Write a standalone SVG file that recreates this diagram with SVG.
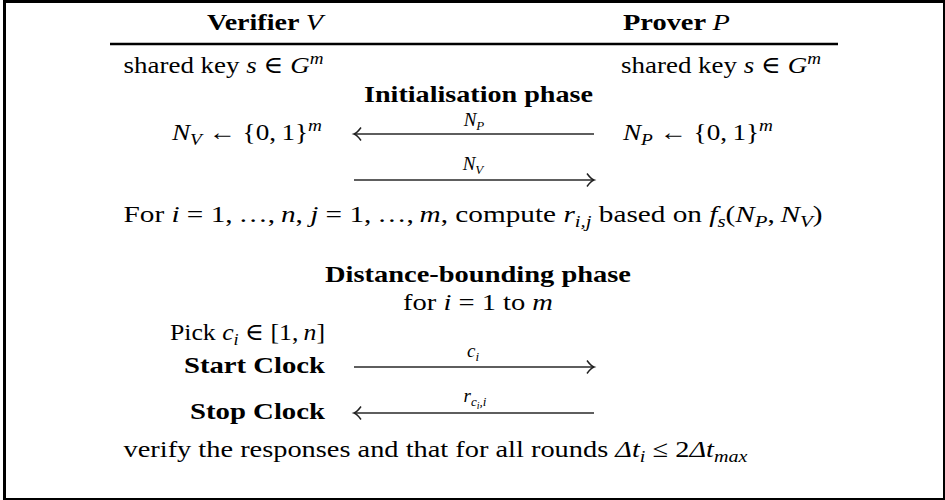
<svg xmlns="http://www.w3.org/2000/svg" width="945" height="500" viewBox="0 0 945 500">
<style>
.t{font-family:"Liberation Serif","DejaVu Serif",serif;font-size:24px;fill:#000}
.b{font-weight:bold}
.i{font-style:italic;font-weight:normal}
.sm{font-size:17px}
.xs{font-size:13px}
.lbl{font-family:"Liberation Serif","DejaVu Serif",serif;font-size:19px;font-style:italic;fill:#000;text-anchor:middle}
.msg{stroke:#5e5e5e;stroke-width:2;fill:none;marker-end:url(#ah)}
</style>
<defs>
<marker id="ah" markerUnits="userSpaceOnUse" markerWidth="14" markerHeight="16" refX="11" refY="8" orient="auto">
<path d="M4,1.5 Q8,7 11,8 Q8,9 4,14.5" fill="none" stroke="#222" stroke-width="1.5"/>
</marker>
</defs>
<rect x="4.5" y="1.5" width="940" height="498" fill="#fff" stroke="#000" stroke-width="3"/>
<g id="header">
<text class="t b" x="207" y="30" textLength="116" lengthAdjust="spacingAndGlyphs">Verifier <tspan class="i">V</tspan></text>
<text class="t b" x="623" y="30" textLength="107" lengthAdjust="spacingAndGlyphs">Prover <tspan class="i">P</tspan></text>
<line x1="110" y1="44" x2="838" y2="44" stroke="#000" stroke-width="2.5"/>
</g>
<g id="verifier-key">
<text class="t" x="123.5" y="73" textLength="200" lengthAdjust="spacingAndGlyphs">shared key <tspan class="i">s</tspan> ∈ <tspan class="i">G</tspan><tspan class="i sm" dy="-9">m</tspan></text>
</g>
<g id="prover-key">
<text class="t" x="621" y="73" textLength="200" lengthAdjust="spacingAndGlyphs">shared key <tspan class="i">s</tspan> ∈ <tspan class="i">G</tspan><tspan class="i sm" dy="-9">m</tspan></text>
</g>
<g id="init-title">
<text class="t b" x="364" y="102" textLength="229" lengthAdjust="spacingAndGlyphs">Initialisation phase</text>
</g>
<g id="verifier-nonce">
<text class="t" x="172" y="140" textLength="150" lengthAdjust="spacingAndGlyphs"><tspan class="i">N</tspan><tspan class="i sm" dy="5">V</tspan><tspan dy="-5"> ← {0,&#8201;1}</tspan><tspan class="i sm" dy="-9">m</tspan></text>
</g>
<g id="prover-nonce">
<text class="t" x="623" y="140" textLength="150" lengthAdjust="spacingAndGlyphs"><tspan class="i">N</tspan><tspan class="i sm" dy="5">P</tspan><tspan dy="-5"> ← {0,&#8201;1}</tspan><tspan class="i sm" dy="-9">m</tspan></text>
</g>
<g id="compute">
<text class="t" x="123.5" y="222" textLength="699" lengthAdjust="spacingAndGlyphs">For <tspan class="i">i</tspan> = 1,&#8201;…,&#8201;<tspan class="i">n</tspan>, <tspan class="i">j</tspan> = 1,&#8201;…,&#8201;<tspan class="i">m</tspan>, compute <tspan class="i">r</tspan><tspan class="i sm" dy="5">i,j</tspan><tspan dy="-5"> based on </tspan><tspan class="i">f</tspan><tspan class="i sm" dy="5">s</tspan><tspan dy="-5">(</tspan><tspan class="i">N</tspan><tspan class="i sm" dy="5">P</tspan><tspan dy="-5">,&#8201;</tspan><tspan class="i">N</tspan><tspan class="i sm" dy="5">V</tspan><tspan dy="-5">)</tspan></text>
</g>
<g id="db-title">
<text class="t b" x="325" y="282" textLength="306" lengthAdjust="spacingAndGlyphs">Distance-bounding phase</text>
<text class="t" x="403" y="310" textLength="150" lengthAdjust="spacingAndGlyphs">for <tspan class="i">i</tspan> = 1 to <tspan class="i">m</tspan></text>
</g>
<g id="pick">
<text class="t" x="170" y="340" textLength="155" lengthAdjust="spacingAndGlyphs">Pick <tspan class="i">c</tspan><tspan class="i sm" dy="5">i</tspan><tspan dy="-5"> ∈ [1,&#8201;</tspan><tspan class="i">n</tspan>]</text>
</g>
<g id="start-clock">
<text class="t b" x="184" y="373" textLength="141" lengthAdjust="spacingAndGlyphs">Start Clock</text>
</g>
<g id="stop-clock">
<text class="t b" x="190" y="419" textLength="135" lengthAdjust="spacingAndGlyphs">Stop Clock</text>
</g>
<g id="verify">
<text class="t" x="123.5" y="457" textLength="624" lengthAdjust="spacingAndGlyphs">verify the responses and that for all rounds <tspan class="i">Δt</tspan><tspan class="i sm" dy="5">i</tspan><tspan dy="-5"> ≤ 2</tspan><tspan class="i">Δt</tspan><tspan class="i sm" dy="5">max</tspan></text>
</g>
<g id="connectors">
<line class="msg" x1="594" y1="134" x2="354" y2="134"/>
<text class="lbl" x="474" y="126">N<tspan class="xs" dy="4">P</tspan></text>
<line class="msg" x1="354" y1="180" x2="594" y2="180"/>
<text class="lbl" x="473" y="170">N<tspan class="xs" dy="4">V</tspan></text>
<line class="msg" x1="354" y1="367" x2="594" y2="367"/>
<text class="lbl" x="473" y="357">c<tspan class="xs" dy="4">i</tspan></text>
<line class="msg" x1="594" y1="413" x2="354" y2="413"/>
<text class="lbl" x="475" y="402">r<tspan class="xs" dy="4">c</tspan><tspan font-size="10" dy="3">i</tspan><tspan class="xs" dy="-3">,i</tspan></text>
</g>
</svg>
